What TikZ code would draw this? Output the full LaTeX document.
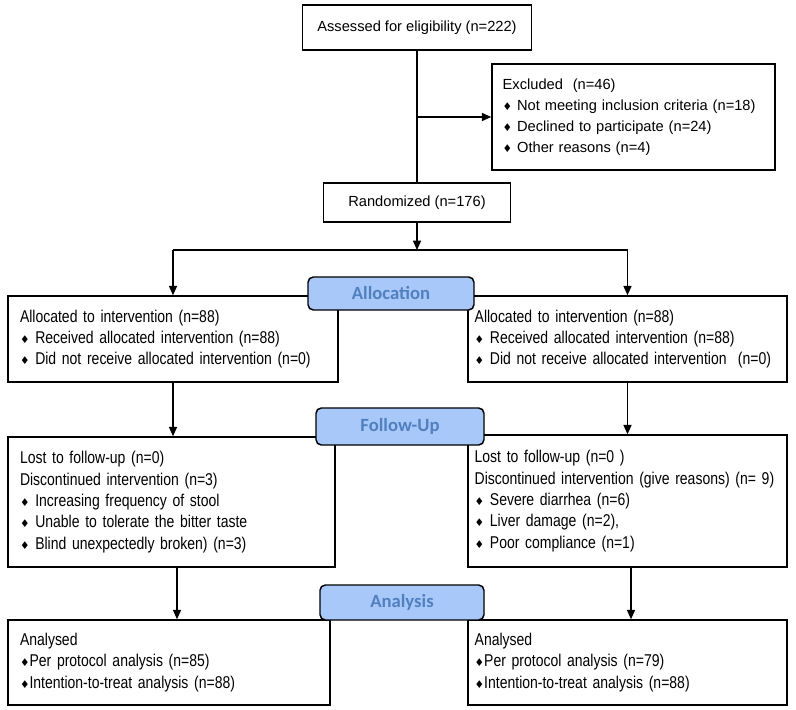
\documentclass[tikz,border=0pt]{standalone}
\usepackage{fontspec}
\setmainfont{Liberation Sans}
\newfontfamily\narrowfont[FakeStretch=0.82]{Liberation Sans}
\newfontfamily\stagefont{Carlito}
\newfontfamily\symfont{DejaVu Sans}
\usepackage{tikz}
\usetikzlibrary{arrows.meta}

\definecolor{stagefill}{RGB}{168,200,250}
\definecolor{stagetext}{RGB}{80,128,190}
\newcommand{\dia}{{\symfont\fontsize{8}{8}\selectfont ♦}}

\begin{document}
\begin{tikzpicture}[x=0.75pt,y=-0.75pt,
	box/.style={draw=black,line width=1.1pt,align=left,inner ysep=0pt},
	wide/.style={font=\fontsize{11}{15.75}\selectfont},
	narrow/.style={font=\narrowfont\fontsize{12.8}{16}\selectfont},
	stage/.style={draw=black,line width=1.1pt,rounded corners=4pt,fill=stagefill,text=stagetext,
		font=\stagefont\bfseries\fontsize{14}{16}\selectfont,inner sep=0pt},
	arr/.style={-{Triangle[length=7pt,width=6pt]},line width=1.1pt},
	link/.style={line width=1.1pt}]
	\useasboundingbox (0,0) rectangle (796,710);

	% enrolment
	\node[box,wide,minimum width=171.75pt,minimum height=33.75pt] (assess) at (417,27.5) {Assessed for eligibility (n=222)};
	\node[box,wide,inner xsep=8pt,text width=196.25pt,minimum height=79.5pt] (excl) at (633.5,117)
		{Excluded~ (n=46)\\ \dia\ Not meeting inclusion criteria (n=18)\\ \dia\ Declined to participate (n=24)\\ \dia\ Other reasons (n=4)};
	\node[box,wide,minimum width=140.25pt,minimum height=29.25pt] (rand) at (417,202.5) {Randomized (n=176)};

	% allocation
	\node[box,narrow,inner xsep=9pt,text width=229.5pt,minimum height=64.5pt] (allocL) at (173,339)
		{Allocated to intervention (n=88)\\ \dia\ Received allocated intervention (n=88)\\ \dia\ Did not receive allocated intervention (n=0)};
	\node[box,narrow,inner xsep=5pt,text width=229.25pt,minimum height=64.5pt] (allocR) at (627.5,339)
		{Allocated to intervention (n=88)\\ \dia\ Received allocated intervention (n=88)\\ \dia\ Did not receive allocated intervention~ (n=0)};

	% follow-up
	\node[box,narrow,inner xsep=9pt,text width=227.25pt,minimum height=97.5pt] (fuL) at (171.5,502)
		{Lost to follow-up (n=0)\\ Discontinued intervention (n=3)\\ \dia\ Increasing frequency of stool\\ \dia\ Unable to tolerate the bitter taste\\ \dia\ Blind unexpectedly broken) (n=3)};
	\node[box,narrow,inner xsep=5pt,text width=229.25pt,minimum height=99pt] (fuR) at (627.5,501)
		{Lost to follow-up (n=0 )\\ Discontinued intervention (give reasons) (n=~9)\\ \dia\ Severe diarrhea (n=6)\\ \dia\ Liver damage (n=2),\\ \dia\ Poor compliance (n=1)};

	% analysis
	\node[box,narrow,inner xsep=9pt,text width=223.5pt,minimum height=63.75pt] (anL) at (169,662.5)
		{Analysed\\ \dia Per protocol analysis (n=85)\\ \dia Intention-to-treat analysis (n=88)};
	\node[box,narrow,inner xsep=5pt,text width=229.25pt,minimum height=63.75pt] (anR) at (627.5,662.5)
		{Analysed\\ \dia Per protocol analysis (n=79)\\ \dia Intention-to-treat analysis (n=88)};

	% connectors
	\coordinate (fork) at (417,250);
	\draw[link] (assess.south) -- (rand.north);
	\draw[arr] (assess.south |- excl.west) -- (excl.west);
	\draw[arr] (rand.south) -- (fork);
	\draw[link] (allocL.north |- fork) -- (allocR.north |- fork);
	\draw[arr] (allocL.north |- fork) -- (allocL.north);
	\draw[arr] (allocR.north |- fork) -- (allocR.north);
	\draw[arr] (allocL.south) -- (allocL.south |- fuL.north);
	\draw[arr] (allocR.south) -- (allocR.south |- fuR.north);
	\draw[arr] (fuL.south -| 177,0) -- (177,0 |- anL.north);
	\draw[arr] (fuR.south -| 631,0) -- (631,0 |- anR.north);

	% stage labels
	\node[stage,minimum width=124.5pt,minimum height=24.75pt] (allocLbl) at (391,293.5) {Allocation};
	\node[stage,minimum width=126pt,minimum height=27.75pt] (fuLbl) at (400,426.5) {Follow-Up};
	\node[stage,minimum width=123pt,minimum height=26.25pt] (anLbl) at (402,602.5) {Analysis};
\end{tikzpicture}
\end{document}
